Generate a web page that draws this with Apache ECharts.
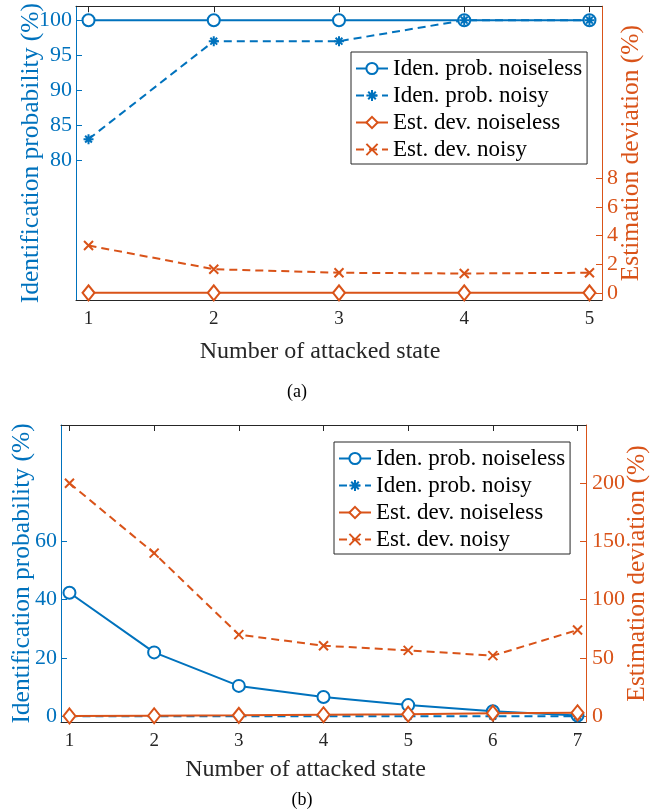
<!DOCTYPE html>
<html lang="en">
<head>
    <meta charset="UTF-8">
    <title>attacked state</title>
    <script src="https://cdn.jsdelivr.net/npm/echarts@6.0.0/dist/echarts.min.js"></script>
    <style>
        html, body { margin: 0; padding: 0; background: #fff; }
        #main { width: 658px; height: 810px; }
    </style>
</head>
<body>
<div id="main"></div>
<script>
    // (a) small attack sizes
    let statesA = [1, 2, 3, 4, 5];
    let idenNoiselessA = [100, 100, 100, 100, 100];
    let idenNoisyA = [83, 97, 97, 100, 100];
    let devNoiselessA = [0, 0, 0, 0, 0];
    let devNoisyA = [3.3, 1.65, 1.4, 1.35, 1.4];
    let leftTicksA = [80, 85, 90, 95, 100];
    let rightTicksA = [0, 2, 4, 6, 8];

    // (b) larger attack sizes
    let statesB = [1, 2, 3, 4, 5, 6, 7];
    let idenNoiselessB = [42.4, 21.9, 10.4, 6.6, 3.8, 1.7, 0.2];
    let idenNoisyB = [0, 0, 0, 0, 0, 0, 0];
    let devNoiselessB = [0.2, 0.4, 0.7, 1.2, 1.7, 2.6, 2.9];
    let devNoisyB = [200, 140, 70, 60.5, 56.5, 52, 74];
    let leftTicksB = [0, 20, 40, 60];
    let rightTicksB = [0, 50, 100, 150, 200];

    let names = ['Iden. prob. noiseless', 'Iden. prob. noisy', 'Est. dev. noiseless', 'Est. dev. noisy'];

    const BLUE = '#0072BD';
    const ORANGE = '#D95319';
    const GRAY = '#262626';
    const FONT = 'Liberation Serif';
    const STAR = 'path://M5,0L5,10M0,5L10,5M1.6,1.6L8.4,8.4M8.4,1.6L1.6,8.4';
    const CROSS = 'path://M0,0L10,10M10,0L0,10';

    function pairs(xs, ys) {
        return xs.map((x, i) => [x, ys[i]]);
    }

    function xAxes(grid, min, max, ticks, gap, shift) {
        return [{
            gridIndex: grid, type: 'value', position: 'bottom', min: min, max: max,
            name: 'Number of attacked state', nameLocation: 'middle', nameGap: gap, nameMoveOverlap: false,
            nameTextStyle: {fontFamily: FONT, fontSize: 24, color: GRAY, padding: [0, shift, 0, 0]},
            axisLine: {onZero: false, lineStyle: {color: GRAY, width: 1}},
            axisTick: {inside: true, length: 6, customValues: ticks, lineStyle: {color: GRAY}},
            axisLabel: {customValues: ticks, margin: 10, fontFamily: FONT, fontSize: 19, color: GRAY},
            splitLine: {show: false}
        }, {
            gridIndex: grid, type: 'value', position: 'top', min: min, max: max,
            axisLine: {onZero: false, lineStyle: {color: GRAY, width: 1}},
            axisTick: {inside: true, length: 6, customValues: ticks, lineStyle: {color: GRAY}},
            axisLabel: {show: false},
            splitLine: {show: false}
        }];
    }

    function yAxis(grid, pos, name, color, min, max, ticks, gap, margin) {
        return {
            gridIndex: grid, type: 'value', position: pos, min: min, max: max,
            name: name, nameLocation: 'middle', nameGap: gap, nameRotate: 90, nameMoveOverlap: false,
            nameTextStyle: {fontFamily: FONT, fontSize: 25.5, color: color},
            axisLine: {show: true, onZero: false, lineStyle: {color: color, width: 1}},
            axisTick: {show: true, inside: true, length: 6, customValues: ticks, lineStyle: {color: color}},
            axisLabel: {customValues: ticks, margin: margin, fontFamily: FONT, fontSize: 22, color: color},
            splitLine: {show: false}
        };
    }

    function line(name, xs, ys, xIdx, yIdx, color, dashed, symbol, size) {
        return {
            name: name, type: 'line', xAxisIndex: xIdx, yAxisIndex: yIdx,
            data: pairs(xs, ys),
            symbol: symbol, symbolSize: size, showSymbol: true, clip: false,
            lineStyle: {color: color, width: 2, type: dashed ? [8, 5] : 'solid'},
            itemStyle: {color: color, borderColor: color, borderWidth: 2},
            emphasis: {disabled: true}
        };
    }

    function legendAt(left, top) {
        return {
            data: names, orient: 'vertical', left: left, top: top,
            padding: [5, 5, 3, 4], itemGap: 4, itemWidth: 32, itemHeight: 14, itemTextGap: 5,
            borderColor: GRAY, borderWidth: 1, backgroundColor: '#fff',
            textStyle: {fontFamily: FONT, fontSize: 23, color: '#000'}
        };
    }

    let myChart = echarts.init(document.getElementById('main'));
    let option = {
        animation: false,
        backgroundColor: '#fff',
        grid: [
            {left: 76, top: 6, width: 526, height: 294},
            {left: 61, top: 425, width: 527, height: 297}
        ],
        xAxis: [].concat(
            xAxes(0, 0.9, 5.1, statesA, 40, 38),
            xAxes(1, 0.9, 7.1, statesB, 36, 36)
        ),
        yAxis: [
            yAxis(0, 'left', 'Identification probability (%)', BLUE, 60, 102, leftTicksA, 32, 4),
            yAxis(0, 'right', 'Estimation deviation (%)', ORANGE, -0.5, 20, rightTicksA, 16, 5),
            yAxis(1, 'left', 'Identification probability (%)', BLUE, -2, 100, leftTicksB, 26, 4),
            yAxis(1, 'right', 'Estimation deviation (%)', ORANGE, -5, 250, rightTicksB, 38, 6)
        ],
        legend: [legendAt(351, 52), legendAt(334, 442)],
        series: [
            line(names[0], statesA, idenNoiselessA, 0, 0, BLUE, false, 'emptyCircle', 12),
            line(names[1], statesA, idenNoisyA, 0, 0, BLUE, true, STAR, 10),
            line(names[2], statesA, devNoiselessA, 0, 1, ORANGE, false, 'emptyDiamond', [12, 15]),
            line(names[3], statesA, devNoisyA, 0, 1, ORANGE, true, CROSS, 9),
            line(names[0], statesB, idenNoiselessB, 2, 2, BLUE, false, 'emptyCircle', 12),
            line(names[1], statesB, idenNoisyB, 2, 2, BLUE, true, STAR, 10),
            line(names[2], statesB, devNoiselessB, 2, 3, ORANGE, false, 'emptyDiamond', [12, 15]),
            line(names[3], statesB, devNoisyB, 2, 3, ORANGE, true, CROSS, 9)
        ],
        graphic: [
            {type: 'text', x: 297, y: 392, style: {text: '(a)', fontFamily: FONT, fontSize: 18, fill: '#000', align: 'center', verticalAlign: 'middle'}},
            {type: 'text', x: 302, y: 800, style: {text: '(b)', fontFamily: FONT, fontSize: 18, fill: '#000', align: 'center', verticalAlign: 'middle'}}
        ]
    };

    myChart.setOption(option);
</script>
</body>
</html>
